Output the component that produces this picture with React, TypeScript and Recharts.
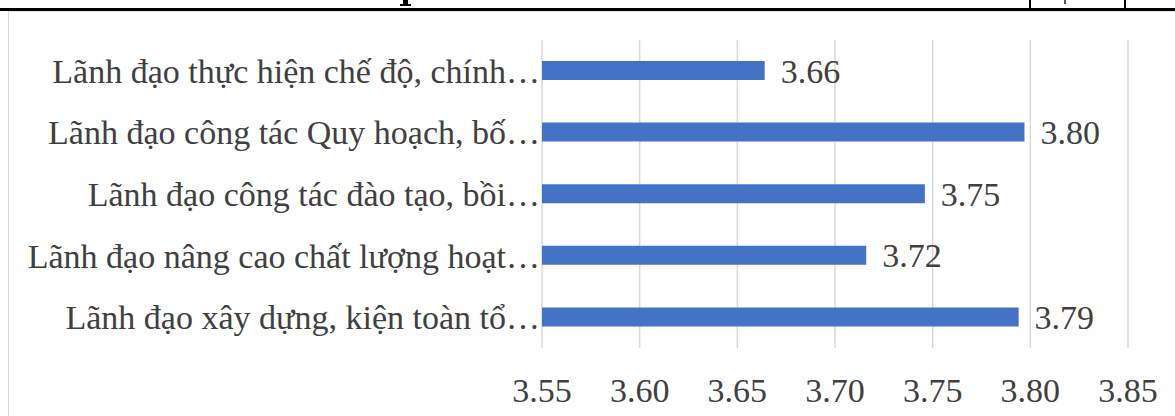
import React from "react"
import { BarChart, Bar, XAxis, YAxis, CartesianGrid, LabelList } from "recharts"

const categories = [
  "Lãnh đạo thực hiện chế độ, chính…",
  "Lãnh đạo công tác Quy hoạch, bố…",
  "Lãnh đạo công tác đào tạo, bồi…",
  "Lãnh đạo nâng cao chất lượng hoạt…",
  "Lãnh đạo xây dựng, kiện toàn tổ…",
]

const scores = [3.664, 3.797, 3.746, 3.716, 3.794]

const xTicks = [3.55, 3.6, 3.65, 3.7, 3.75, 3.8, 3.85]

const FONT = '"Liberation Serif", "Times New Roman", serif'
const TEXT = "#404040"

export default function App() {
  const chartData = categories.map((name, i) => ({ name, value: scores[i] }))

  return (
    <div
      style={{
        position: "fixed",
        left: 0,
        top: 0,
        width: 1175,
        height: 416,
        overflow: "hidden",
        background: "#fff",
      }}
    >
      {/* bits of the table above the chart */}
      <div style={{ position: "absolute", left: 0, top: 8, width: 1175, height: 3, background: "#000" }} />
      <div style={{ position: "absolute", left: 1029, top: 0, width: 2, height: 9, background: "#000" }} />
      <div style={{ position: "absolute", left: 1124, top: 0, width: 2, height: 9, background: "#000" }} />
      {/* descender of a cut-off heading glyph */}
      <div style={{ position: "absolute", left: 403, top: 0, width: 5, height: 5, background: "#000" }} />
      <div style={{ position: "absolute", left: 400, top: 4, width: 11, height: 1.5, background: "#000" }} />
      <div style={{ position: "absolute", left: 1064, top: 0, width: 2, height: 4, background: "#555" }} />
      {/* chart frame */}
      <div
        style={{
          position: "absolute",
          left: 8,
          top: 11,
          width: 1300,
          height: 500,
          borderLeft: "1.5px solid #d9d9d9",
          borderTop: "1.5px solid #e6e6e6",
        }}
      />
      <div style={{ position: "absolute", left: 0, top: 0 }}>
        <BarChart
          width={1175}
          height={416}
          data={chartData}
          layout="vertical"
          margin={{ top: 40, right: 47, bottom: 8, left: 0 }}
          barCategoryGap={0}
        >
          <CartesianGrid horizontal={false} stroke="#d9d9d9" strokeWidth={1.5} />
          <XAxis
            type="number"
            domain={[3.55, 3.85]}
            ticks={xTicks}
            interval={0}
            allowDataOverflow
            axisLine={false}
            tickLine={false}
            height={60}
            tickMargin={24}
            tickFormatter={(v: number) => v.toFixed(2)}
            tick={{ fill: TEXT, fontSize: 34, fontFamily: FONT }}
          />
          <YAxis
            type="category"
            dataKey="name"
            width={542}
            axisLine={false}
            tickLine={false}
            tickSize={0}
            tickMargin={2}
            interval={0}
            tick={{ fill: TEXT, fontSize: 34, fontFamily: FONT }}
          />
          <Bar dataKey="value" fill="#4472C4" barSize={19} isAnimationActive={false}>
            <LabelList
              dataKey="value"
              position="right"
              offset={16}
              formatter={(v: number) => v.toFixed(2)}
              fill={TEXT}
              fontSize={34}
              fontFamily={FONT}
            />
          </Bar>
        </BarChart>
      </div>
    </div>
  )
}
